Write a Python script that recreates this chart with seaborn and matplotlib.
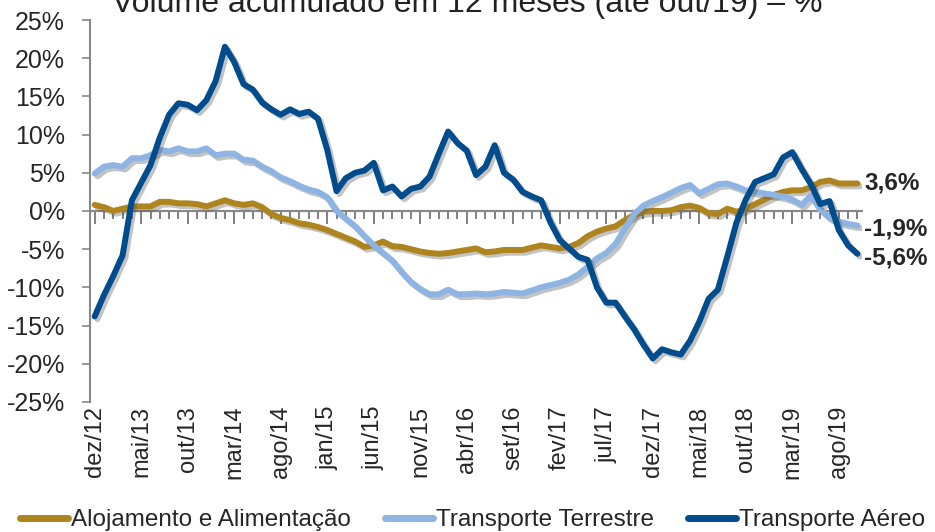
import numpy as np
import pandas as pd
import matplotlib
matplotlib.use('Agg')
import matplotlib.pyplot as plt
import matplotlib.patheffects as pe
import matplotlib.transforms as mtransforms
import seaborn as sns

# meses (dez/12 a out/19)
meses_pt = ['jan', 'fev', 'mar', 'abr', 'mai', 'jun', 'jul', 'ago', 'set', 'out', 'nov', 'dez']
rotulos = ['dez/12'] + [f'{m}/{a}' for a in range(13, 20) for m in meses_pt]
rotulos = rotulos[:83]

alojamento = [0.8, 0.5, 0.0, 0.3, 0.6, 0.6, 0.6, 1.2, 1.2, 1.0,
              1.0, 0.9, 0.6, 1.0, 1.4, 1.0, 0.8, 1.0, 0.5, -0.4,
              -0.9, -1.2, -1.6, -1.8, -2.1, -2.5, -3.0, -3.5, -4.0, -4.7,
              -4.5, -4.0, -4.6, -4.7, -5.0, -5.3, -5.5, -5.6, -5.5, -5.3,
              -5.1, -4.9, -5.4, -5.3, -5.1, -5.1, -5.1, -4.8, -4.5, -4.7,
              -4.9, -4.7, -4.2, -3.3, -2.7, -2.3, -2.0, -1.2, -0.5, -0.1,
              0.0, 0.0, 0.1, 0.5, 0.7, 0.4, -0.3, -0.4, 0.3, -0.1,
              0.3, 0.9, 1.5, 2.1, 2.5, 2.7, 2.7, 3.1, 3.8, 4.0,
              3.6, 3.6, 3.6]

terrestre = [4.9, 5.8, 6.0, 5.8, 6.9, 6.9, 7.3, 8.0, 7.8, 8.2,
             7.8, 7.8, 8.2, 7.3, 7.5, 7.5, 6.7, 6.6, 5.8, 5.2,
             4.4, 3.9, 3.3, 2.8, 2.5, 1.8, 0.0, -1.0, -2.0, -3.3,
             -4.5, -5.5, -6.5, -8.0, -9.3, -10.2, -10.9, -10.9, -10.3, -10.9,
             -10.9, -10.8, -10.9, -10.8, -10.6, -10.7, -10.8, -10.4, -10.0, -9.7,
             -9.4, -9.0, -8.3, -7.3, -6.2, -5.5, -4.3, -2.3, -0.4, 0.7,
             1.3, 1.8, 2.4, 3.0, 3.4, 2.3, 2.9, 3.5, 3.6, 3.2,
             2.7, 2.5, 2.3, 2.1, 1.9, 1.5, 0.8, 2.0, 0.2, -0.9,
             -1.4, -1.7, -1.9]

aereo = [-13.8, -11.0, -8.5, -5.8, 1.4, 3.7, 6.0, 9.6, 12.6, 14.1,
         13.9, 13.2, 14.5, 17.0, 21.5, 19.5, 16.6, 15.9, 14.2, 13.3,
         12.6, 13.3, 12.7, 13.0, 12.1, 8.0, 2.6, 4.3, 5.0, 5.3,
         6.3, 2.7, 3.2, 1.9, 2.9, 3.2, 4.5, 7.5, 10.4, 8.9,
         7.9, 4.7, 5.8, 8.6, 5.0, 4.1, 2.5, 1.9, 1.4, -1.5,
         -3.8, -4.9, -6.0, -6.4, -10.0, -12.0, -12.0, -13.8, -15.5, -17.5,
         -19.3, -18.1, -18.5, -18.8, -17.0, -14.5, -11.5, -10.3, -6.0, -1.5,
         1.5, 3.8, 4.3, 4.8, 7.0, 7.7, 5.5, 3.5, 0.9, 1.3,
         -2.5, -4.5, -5.6]

series = ['Alojamento e Alimentação', 'Transporte Terrestre', 'Transporte Aéreo']
cores = ['#AE841E', '#8DB4E2', '#004C8C']
rotulos_finais = ['3,6%', '-1,9%', '-5,6%']

df = pd.DataFrame({'mes': np.arange(len(rotulos)),
                   series[0]: alojamento,
                   series[1]: terrestre,
                   series[2]: aereo})
df_long = df.melt(id_vars='mes', var_name='serie', value_name='valor')

sns.set_style('white')
plt.rcParams['font.family'] = ['Liberation Sans', 'DejaVu Sans']
plt.rcParams['axes.unicode_minus'] = False
plt.rcParams['xtick.bottom'] = True
plt.rcParams['xtick.minor.bottom'] = True
plt.rcParams['ytick.left'] = True

fig = plt.figure(figsize=(9.35, 5.32), dpi=100)
ax = fig.add_axes([0.0963, 0.2444, 0.8257, 0.718])

# linha do zero
ax.axhline(0, color='#888888', linewidth=1.5, zorder=1)

sns.lineplot(data=df_long, x='mes', y='valor', hue='serie', hue_order=series,
             palette=cores, linewidth=4.3, ax=ax, legend=True, zorder=3,
             path_effects=[pe.SimpleLineShadow(offset=(2, -2), shadow_color='#555555', alpha=0.35),
                           pe.Normal()])

ax.set_xlim(-0.5, 82.5)
ax.set_ylim(-25, 25)
ax.set_yticks(np.arange(-25, 26, 5))
ax.yaxis.set_major_formatter(matplotlib.ticker.FuncFormatter(lambda v, p: f'{v:.0f}%'))
ax.tick_params(axis='y', direction='out', length=6, width=1.2, color='#888888',
               labelsize=18, pad=12, left=True)

# eixo horizontal no zero com marcas mensais
ax.spines['bottom'].set_position(('data', 0))
ax.spines['bottom'].set_color('#888888')
ax.spines['bottom'].set_linewidth(1.5)
ax.set_xticks(np.arange(0, len(rotulos), 5))
ax.set_xticks(np.arange(0, len(rotulos)), minor=True)
ax.tick_params(axis='x', which='both', bottom=True, direction='out', width=1.4,
               color='#808080', labelbottom=False)
ax.tick_params(axis='x', which='major', length=9)
ax.tick_params(axis='x', which='minor', length=6)

# rótulos do eixo x embaixo do gráfico
trans = mtransforms.blended_transform_factory(ax.transData, ax.transAxes)
for pos in np.arange(0, len(rotulos), 5):
    ax.text(pos, -0.01, rotulos[pos], transform=trans, rotation=90,
            ha='center', va='top', fontsize=17)

for s in ['top', 'right']:
    ax.spines[s].set_visible(False)
ax.spines['left'].set_color('#888888')
ax.spines['left'].set_linewidth(1.5)
ax.set_xlabel('')
ax.set_ylabel('')

# rótulos finais
ultimos = [alojamento[-1], terrestre[-1], aereo[-1]]
deslocs = [0.0, -0.4, -0.5]
for v, t, d in zip(ultimos, rotulos_finais, deslocs):
    ax.annotate(t, xy=(len(rotulos) - 1, v + d), xytext=(5, 0), textcoords='offset points',
                fontsize=17.5, fontweight='bold', va='center', ha='left', annotation_clip=False)

leg = ax.legend(loc='center', ncol=3, frameon=False, fontsize=17.5,
                handlelength=2.0, handletextpad=0.1, columnspacing=1.4, borderaxespad=0)
for l in leg.get_lines():
    l.set_linewidth(5)
    l.set_path_effects([])
leg.set_bbox_to_anchor((0.505, 0.022), transform=fig.transFigure)

fig.text(0.5, 0.977, 'Volume acumulado em 12 meses (até out/19) – %',
         fontsize=23, ha='center', va='baseline', color='#222222')

fig.savefig('out.png', dpi=100)
